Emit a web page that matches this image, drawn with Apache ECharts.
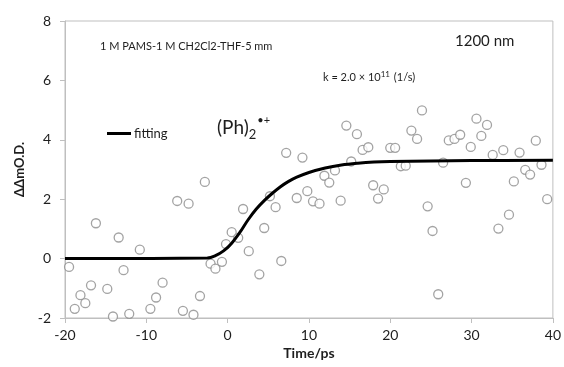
<!DOCTYPE html>
<html>
<head>
<meta charset="utf-8">
<script src="https://cdn.jsdelivr.net/npm/echarts@6/dist/echarts.min.js"></script>
<style>
  html, body { margin: 0; padding: 0; background: #fff; }
  #chart { width: 564px; height: 367px; }
</style>
</head>
<body>
<div id="chart"></div>
<script>
// Measured transient absorption (time in ps, signal in ΔΔmO.D.)
const timePs = [
  -19.5, -18.8, -18.1, -17.5, -16.8, -16.2, -14.8, -14.1, -13.4, -12.8,
  -12.1, -10.8, -9.5, -8.8, -8.0, -6.2, -5.5, -4.8, -4.2, -3.4,
  -2.8, -2.1, -1.5, -0.7, -0.2, 0.5, 1.3, 1.9, 2.6, 3.9,
  4.5, 5.2, 5.9, 6.6, 7.2, 8.5, 9.2, 9.8, 10.5, 11.3,
  11.9, 12.5, 13.2, 13.9, 14.6, 15.2, 15.9, 16.6, 17.3, 17.9,
  18.5, 19.2, 20.0, 20.6, 21.3, 21.9, 22.6, 23.3, 23.9, 24.6,
  25.2, 25.9, 26.5, 27.2, 27.9, 28.6, 29.3, 29.9, 30.6, 31.2,
  31.9, 32.6, 33.3, 33.9, 34.6, 35.2, 35.9, 36.6, 37.2, 37.9,
  38.6, 39.3
];
const signal = [
  -0.28, -1.69, -1.23, -1.50, -0.90, 1.19, -1.02, -1.95, 0.71, -0.39,
  -1.86, 0.30, -1.69, -1.31, -0.81, 1.94, -1.76, 1.85, -1.89, -1.26,
  2.58, -0.17, -0.34, -0.11, 0.49, 0.89, 0.70, 1.67, 0.25, -0.53,
  1.03, 2.10, 1.73, -0.08, 3.56, 2.04, 3.40, 2.27, 1.93, 1.85,
  2.79, 2.56, 2.97, 1.95, 4.48, 3.27, 4.19, 3.66, 3.75, 2.47,
  2.02, 2.33, 3.73, 3.73, 3.11, 3.13, 4.31, 4.03, 4.99, 1.76,
  0.93, -1.20, 3.23, 3.98, 4.03, 4.17, 2.55, 3.76, 4.71, 4.13,
  4.50, 3.49, 1.01, 3.65, 1.48, 2.60, 3.57, 2.99, 2.83, 3.97,
  3.16, 2.00
];

// Fitted rise curve, tabulated
const fitTime = [-20, -2.5, -1.5, -0.5, 0.5, 1.5, 2.5, 3.5, 4.5, 5.5,
                 6.5, 7.5, 8.5, 10, 12, 14, 16, 18, 20, 25, 30, 40];
const fitValue = [0, 0.02, 0.10, 0.26, 0.52, 0.88, 1.30, 1.66, 1.95, 2.20,
                  2.42, 2.60, 2.74, 2.90, 3.05, 3.15, 3.21, 3.25, 3.27, 3.29, 3.30, 3.31];

const xTicks = { min: -20, max: 40, step: 10 };
const yTicks = { min: -2, max: 8, step: 2 };

const FONT = 'Lato, "Open Sans", sans-serif';
const TEXT = '#1e1e1e';

const chart = echarts.init(document.getElementById('chart'), null, { renderer: 'canvas' });

const zip = (a, b) => a.map((v, i) => [v, b[i]]);

chart.setOption({
  animation: false,
  backgroundColor: '#ffffff',
  grid: { left: 65, right: 8, top: 21, bottom: 49, show: true, borderColor: '#bfbfbf', borderWidth: 1, backgroundColor: 'transparent' },
  legend: {
    data: ['fitting'],
    left: 102, top: 122,
    itemWidth: 24, itemHeight: 3, itemGap: 0,
    icon: 'rect',
    textStyle: { fontFamily: FONT, fontSize: 13, color: TEXT, padding: [0, 0, 0, -2] }
  },
  xAxis: {
    type: 'value',
    min: xTicks.min, max: xTicks.max, interval: xTicks.step,
    name: 'Time/ps', nameLocation: 'middle', nameGap: 28,
    nameTextStyle: { fontFamily: FONT, fontSize: 14, fontWeight: 'bold', color: TEXT },
    axisLine: { onZero: false, lineStyle: { color: '#bfbfbf', width: 1 } },
    axisTick: { show: true, length: 5, lineStyle: { color: '#bfbfbf' } },
    axisLabel: { fontFamily: FONT, fontSize: 14, color: TEXT, margin: 10 },
    splitLine: { show: false }
  },
  yAxis: {
    type: 'value',
    min: yTicks.min, max: yTicks.max, interval: yTicks.step,
    name: 'ΔΔmO.D.', nameLocation: 'middle', nameGap: 38, nameRotate: 90,
    nameTextStyle: { fontFamily: FONT, fontSize: 13, fontWeight: 'bold', color: TEXT },
    axisLine: { show: true, onZero: false, lineStyle: { color: '#bfbfbf', width: 1 } },
    axisTick: { show: true, length: 5, lineStyle: { color: '#bfbfbf' } },
    axisLabel: { fontFamily: FONT, fontSize: 14, color: TEXT, margin: 14 },
    splitLine: { show: false }
  },
  series: [
    {
      name: 'data',
      type: 'scatter',
      data: zip(timePs, signal),
      symbol: 'circle',
      symbolSize: 9,
      itemStyle: { color: '#ffffff', borderColor: '#8c8c8c', borderWidth: 1.3 },
      z: 2
    },
    {
      name: 'fitting',
      type: 'line',
      data: zip(fitTime, fitValue),
      smooth: 0.35,
      showSymbol: false,
      lineStyle: { color: '#000000', width: 3 },
      itemStyle: { color: '#000000' },
      z: 3
    }
  ],
  graphic: [
    {
      type: 'text', left: 100, top: 41,
      style: { text: '1 M PAMS-1 M CH2Cl2-THF-5 mm', font: '11px ' + FONT, fill: TEXT }
    },
    {
      type: 'text', left: 455, top: 34,
      style: { text: '1200 nm', font: '15px ' + FONT, fill: TEXT }
    },
    {
      type: 'text', left: 323, top: 70,
      style: {
        text: '{t|k = 2.0 × 10}{s|11}{t| (1/s)}',
        rich: {
          t: { font: '11px ' + FONT, fill: TEXT, verticalAlign: 'bottom' },
          s: { font: '8px ' + FONT, fill: TEXT, verticalAlign: 'top', padding: [0, 1, 5, 0] }
        }
      }
    },
    {
      type: 'text', left: 217, top: 115,
      style: {
        text: '{t|(Ph)}{b|2}{s|•+}',
        rich: {
          t: { font: '19px ' + FONT, fill: TEXT },
          b: { font: '13px ' + FONT, fill: TEXT, padding: [13, 0, 0, 0] },
          s: { font: '11px ' + FONT, fill: TEXT, padding: [0, 0, 15, 1] }
        }
      }
    }
  ]
});
</script>
</body>
</html>
